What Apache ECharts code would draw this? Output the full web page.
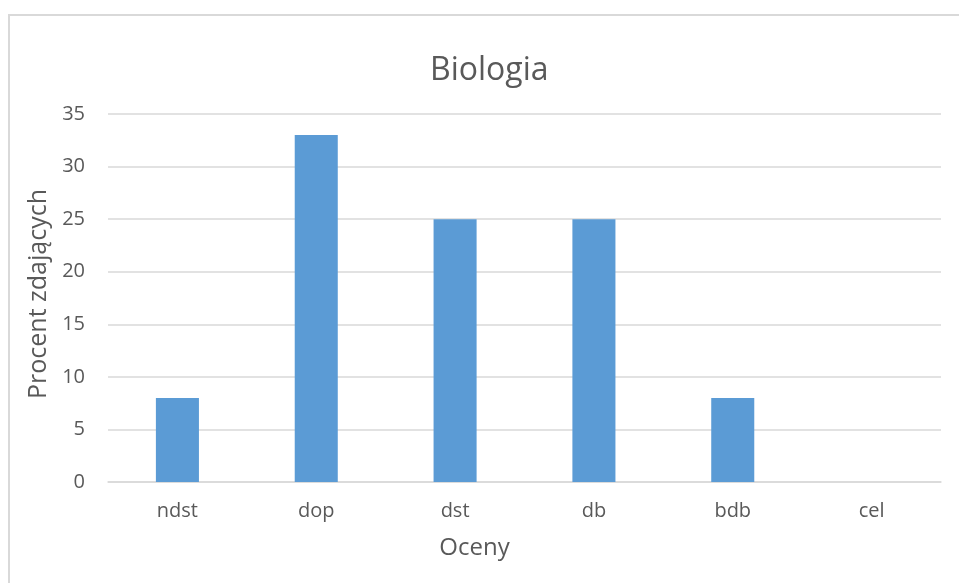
<!DOCTYPE html>
<html>
<head>
<meta charset="utf-8">
<script src="https://cdn.jsdelivr.net/npm/echarts@6/dist/echarts.min.js"></script>
<style>html,body{margin:0;padding:0;background:#fff}#c{width:959px;height:583px}</style>
</head>
<body>
<div id="c"></div>
<script>
const titleText = "Biologia";
const categories = ["ndst", "dop", "dst", "db", "bdb", "cel"];
const values = [8, 33, 25, 25, 8, 0];
const xAxisName = "Oceny";
const yAxisName = "Procent zdających";

const chart = echarts.init(document.getElementById('c'));
const font = "Open Sans";
chart.setOption({
  animation: false,
  backgroundColor: '#fff',
  graphic: [{
    type: 'rect', silent: true, z: -10,
    shape: {x: 9, y: 15, width: 1000, height: 1000},
    style: {fill: 'none', stroke: '#d9d9d9', lineWidth: 2}
  }],
  title: {
    text: titleText, left: 425, top: 50,
    textStyle: {fontFamily: font, fontSize: 32, fontWeight: 'normal', color: '#595959'}
  },
  grid: {left: 108, right: 18, top: 114, bottom: 101, containLabel: false},
  xAxis: {
    type: 'category', data: categories,
    name: xAxisName, nameLocation: 'middle', nameGap: 54,
    nameTextStyle: {fontFamily: font, fontSize: 24, color: '#595959', padding: [0, 100, 0, 0]},
    axisLine: {show: true, lineStyle: {color: '#d9d9d9', width: 1.5}},
    axisTick: {show: false},
    axisLabel: {fontFamily: font, fontSize: 20, color: '#595959', margin: 19}
  },
  yAxis: {
    type: 'value', min: 0, max: 35, interval: 5,
    name: yAxisName, nameLocation: 'middle', nameGap: 57, nameRotate: 90,
    nameTextStyle: {fontFamily: font, fontSize: 25, color: '#595959', padding: [0, 0, 0, 8]},
    axisLine: {show: false}, axisTick: {show: false},
    axisLabel: {fontFamily: font, fontSize: 20, color: '#595959', margin: 23},
    splitLine: {lineStyle: {color: '#d9d9d9', width: 1.5}}
  },
  series: [{
    type: 'bar', data: values, barWidth: '31%',
    itemStyle: {color: '#5b9bd5'}
  }]
});
</script>
</body>
</html>
